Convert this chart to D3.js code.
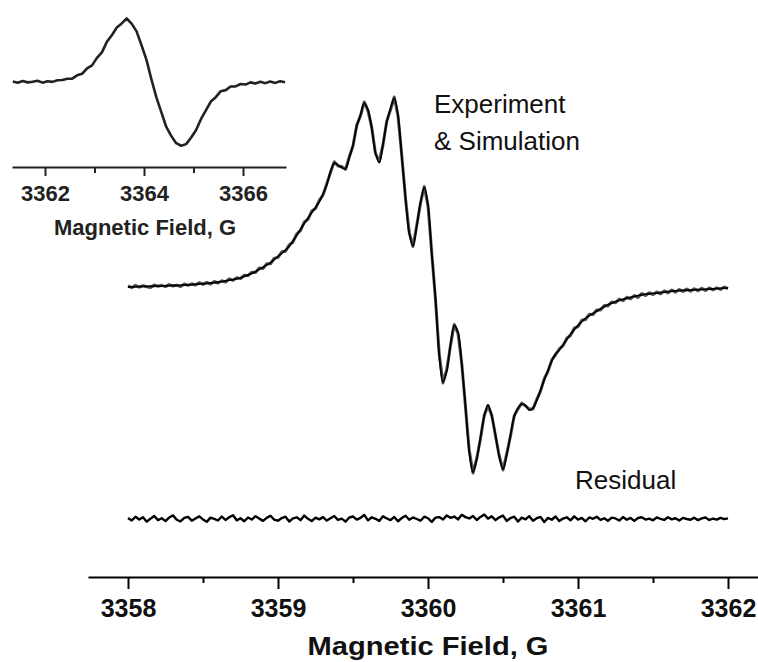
<!DOCTYPE html>
<html>
  <head>
    <meta charset="utf-8">
    <title>EPR spectrum: experiment, simulation, residual</title>
    <script src="https://d3js.org/d3.v7.min.js"></script>
    <style>
      body { margin: 0; background: #fff; }
      text { font-family: "Liberation Sans", Arial, sans-serif; }
    </style>
  </head>
  <body>
  <script type="text/javascript">
    // main spectrum: field grid 3358 .. 3362 G, step 0.025 G
    var fieldStart = 3358, fieldStep = 0.025;
    var mainTicks = [3358, 3359, 3360, 3361, 3362];
    var mainMinorTicks = [3358.5, 3359.5, 3360.5, 3361.5];

    // simulated derivative spectrum (arb. units)
    var simulation = [
      0, 0.1, 0.1, 0.2, 0.3, 0.3, 0.4, 0.4, 0.5, 0.5,
      0.6, 0.7, 0.8, 0.8, 0.9, 1.0, 1.1, 1.2, 1.4, 1.6,
      1.7, 1.9, 2.1, 2.3, 2.5, 2.8, 3.2, 3.6, 3.9, 4.4,
      4.8, 5.6, 6.4, 7.2, 8.1, 9.3, 10.4, 11.6, 12.8, 14.5,
      16.1, 17.7, 19.4, 21.4, 24.3, 27.2, 30.4, 33.4, 36.3, 39.2,
      41.9, 44.9, 48.9, 53.7, 60.7, 65.2, 64.2, 62.8, 62.3, 67.9,
      74.7, 84.6, 90.5, 96.8, 93.2, 83.5, 70.6, 65.5, 75.2, 86.7,
      93.8, 99.4, 90.5, 68.8, 47.1, 28.2, 21.7, 31.9, 44.5, 52.3,
      43.2, 17.5, -6.1, -35.9, -50, -44.1, -30.3, -20.3, -23.9, -40.7,
      -62.8, -86.6, -97.4, -90.7, -79.2, -68.0, -62.1, -68, -77.9, -89.4,
      -95.8, -88.3, -77.9, -68.2, -63.7, -61.7, -62.2, -64.8, -63.7, -59.7,
      -54.3, -48.9, -43.9, -39.0, -35.2, -33.2, -30.4, -27.6, -24.9, -22.4,
      -20.2, -18.2, -16.5, -15.1, -13.9, -12.7, -11.5, -10.4, -9.3, -8.5,
      -7.7, -7, -6.5, -6, -5.5, -5, -4.5, -4.1, -3.8, -3.6,
      -3.4, -3.2, -2.9, -2.7, -2.4, -2.2, -2, -1.9, -1.8, -1.7,
      -1.6, -1.5, -1.4, -1.3, -1.2, -1.1, -1, -0.9, -0.7, -0.6,
      -0.5
    ];

    // measured spectrum (same grid)
    var experiment = [
      0.6, -0.4, 0.9, -0.1, 0.7, 0.1, -0.3, 1.1, 0.4, 0.9,
      0.2, 1.3, 0.5, 1.0, 0.2, 1.6, 0.9, 1.7, 1.0, 2.3,
      1.4, 2.4, 1.5, 2.9, 2.1, 3.3, 2.6, 4.3, 3.5, 4.9,
      4.4, 6.2, 5.9, 7.8, 7.6, 10.0, 9.7, 12.3, 12.2, 15.2,
      15.5, 18.5, 18.8, 22.2, 23.6, 28.0, 29.7, 34.2, 35.6, 40.0,
      41.3, 45.6, 48.3, 54.4, 60.2, 65.9, 63.7, 63.4, 61.9, 68.5,
      74.2, 85.2, 90.1, 97.4, 92.7, 84.0, 70.2, 66.1, 74.8, 87.3,
      93.3, 100.0, 90.0, 69.4, 46.6, 28.8, 21.3, 32.5, 44.1, 52.9,
      42.7, 18.1, -6.6, -35.3, -50.5, -43.5, -30.8, -19.7, -24.4, -40.1,
      -63.3, -86.0, -97.9, -90.1, -79.7, -67.4, -62.6, -67.4, -78.4, -88.8,
      -96.3, -87.7, -78.4, -67.6, -64.2, -61.1, -62.7, -64.2, -64.2, -59.1,
      -54.9, -48.3, -44.4, -38.4, -35.8, -32.6, -31.0, -27.0, -25.5, -21.7,
      -20.9, -17.5, -17.1, -14.4, -14.5, -12.1, -12.1, -9.7, -10.0, -7.9,
      -8.3, -6.4, -7.2, -5.4, -6.2, -4.5, -5.5, -3.5, -4.5, -3.0,
      -4.0, -2.6, -3.6, -2.0, -3.1, -1.6, -2.7, -1.3, -2.3, -1.1,
      -2.2, -0.9, -2.0, -0.7, -1.8, -0.5, -1.5, -0.4, -1.3, 0.0,
      -0.8
    ];

    // residual = experiment - simulation
    var residual = [
      0.5, -0.8, 1.2, -0.3, 0.9, -1.4, 0.2, 1.6, -0.6, 0.4,
      -1.1, 0.8, 1.9, -0.4, -1.3, 0.6, 1.1, -0.9, 0.3, 1.4,
      -0.2, -1.5, 0.7, 0.1, -0.8, 1.3, -0.5, 0.9, 2.0, -0.7,
      0.4, -1.2, 0.8, -0.3, 1.5, 0.2, -1.0, 0.6, 1.7, -0.4,
      -0.9, 0.5, 1.2, -1.3, 0.3, 0.9, -0.6, 1.8, 0.1, -1.1,
      0.7, -0.2, 1.0, -0.8, 0.4, 1.6, -0.5, 0.2, -1.4, 0.8,
      1.3, -0.3, 0.6, 2.1, -0.7, 0.9, 0.1, -1.0, 1.4, 0.3,
      -0.6, 1.1, -1.2, 0.5, 1.7, -0.4, 0.8, 0.0, -0.9, 1.2,
      0.4, -1.5, 0.7, 1.0, -0.3, 1.9, 0.6, 1.3, -0.2, 2.2,
      1.0, 0.3, 1.6, -0.5, 1.1, 2.4, 0.2, 1.4, -0.6, 0.9,
      1.8, -1.0, 0.5, 1.2, -1.3, 0.7, -0.2, 1.5, -0.9, 0.4,
      1.1, -1.6, 0.6, -0.4, 1.3, -1.1, 0.2, 0.9, -0.7, 1.4,
      -0.3, 0.6, -1.2, 0.8, 0.1, 1.2, -0.5, 0.4, -0.9, 0.7,
      0.3, -0.8, 1.0, -0.4, 0.6, -1.0, 0.5, 0.9, -0.3, 0.2,
      -0.7, 0.8, 0.1, -0.5, 0.9, -0.2, 0.4, -0.8, 0.6, 0.0,
      -0.4, 0.7, -0.6, 0.3, 0.8, -0.5, 0.2, -0.3, 0.6, -0.1,
      0.3
    ];

    // inset: wide scan, 3361.35 .. 3366.85 G, step 0.1 G
    var insetStart = 3361.35, insetStep = 0.1;
    var insetTicks = [3362, 3364, 3366];
    var insetMinorTicks = [3363, 3365];
    var insetSignal = [
      0.8, -1.2, 1.5, -0.6, 0.4, 1.9, -1.0, 1.3, 0.2, 2.8,
      3.1, 5.2, 5.4, 10.6, 13.1, 21.5, 26.4, 38.3, 47.0, 63.8,
      74.2, 86.5, 93.0, 100.8, 92.7, 80.3, 58.4, 35.2, 4.1, -24.5,
      -47.7, -71.4, -85.5, -97.1, -101.2, -98.6, -88.5, -76.6, -59.1, -45.2,
      -31.0, -24.1, -14.6, -12.9, -7.2, -6.9, -3.2, -4.1, -0.6, -2.5,
      0.3, -1.8, 0.9, -1.4, 1.1, -0.5
    ];

    var width = 758, height = 662;

    var svg = d3.select("body").append("svg")
      .attr("width", width)
      .attr("height", height);

    svg.append("rect").attr("width", width).attr("height", height).attr("fill", "#fff");

    // ---- main panel ----
    var x = d3.scaleLinear().domain([3358, 3362]).range([128, 728]);
    var y = d3.scaleLinear().domain([-100, 100]).range([477, 97]);
    var yRes = d3.scaleLinear().domain([-100, 100]).range([709, 329]);

    function field(i) { return fieldStart + i * fieldStep; }

    var line = d3.line()
      .x(function(d, i){ return x(field(i)); })
      .y(function(d){ return y(d); });

    var resLine = d3.line()
      .x(function(d, i){ return x(field(i)); })
      .y(function(d){ return yRes(d); });

    svg.append("path")
      .datum(experiment)
      .attr("d", line)
      .attr("fill", "none")
      .attr("stroke", "#555")
      .attr("stroke-width", 3)
      .attr("stroke-linejoin", "round");

    svg.append("path")
      .datum(simulation)
      .attr("d", line.curve(d3.curveCatmullRom))
      .attr("fill", "none")
      .attr("stroke", "#000")
      .attr("stroke-width", 1.8);

    svg.append("path")
      .datum(residual)
      .attr("d", resLine)
      .attr("fill", "none")
      .attr("stroke", "#000")
      .attr("stroke-width", 2.4)
      .attr("stroke-linejoin", "round");

    // main axis (line runs past the data on both sides)
    var xAxisScale = x.copy().domain([x.invert(88), x.invert(758)]).range([88, 758]);
    var axisY = 577;
    var gx = svg.append("g").attr("transform", "translate(0," + axisY + ")");
    gx.call(d3.axisBottom(xAxisScale).tickValues(mainTicks).tickSize(12).tickPadding(10)
        .tickFormat(d3.format("d")).tickSizeOuter(0));
    gx.append("g").call(d3.axisBottom(xAxisScale).tickValues(mainMinorTicks).tickSize(6)
        .tickFormat("").tickSizeOuter(0))
      .select(".domain").remove();
    gx.selectAll("path, line").attr("stroke", "#000").attr("stroke-width", 2);
    gx.selectAll("text")
      .style("font-family", "'Liberation Sans', Arial, sans-serif")
      .style("font-size", "25px")
      .style("font-weight", "bold")
      .attr("fill", "#111");

    // axis title, slightly stretched sideways as in the original figure
    svg.append("text")
      .attr("transform", "translate(428,655) scale(1.12,1)")
      .attr("text-anchor", "middle")
      .style("font-size", "26px").style("font-weight", "bold")
      .attr("fill", "#111")
      .text("Magnetic Field, G");

    svg.append("text").attr("x", 434).attr("y", 113)
      .style("font-size", "26px").attr("fill", "#111").text("Experiment");
    svg.append("text").attr("x", 434).attr("y", 150)
      .style("font-size", "26px").attr("fill", "#111").text("& Simulation");
    svg.append("text").attr("x", 575).attr("y", 489)
      .style("font-size", "26px").attr("fill", "#111").text("Residual");

    // ---- inset ----
    var xi = d3.scaleLinear().domain([3362, 3366]).range([45, 243]);
    var yi = d3.scaleLinear().domain([-100, 100]).range([145, 19]);

    var insetLine = d3.line()
      .x(function(d, i){ return xi(insetStart + i * insetStep); })
      .y(function(d){ return yi(d); });

    svg.append("path")
      .datum(insetSignal)
      .attr("d", insetLine)
      .attr("fill", "none")
      .attr("stroke", "#222")
      .attr("stroke-width", 2.6)
      .attr("stroke-linejoin", "round");

    var xiAxisScale = xi.copy().domain([xi.invert(12), xi.invert(286)]).range([12, 286]);
    var gi = svg.append("g").attr("transform", "translate(0,167)");
    gi.call(d3.axisBottom(xiAxisScale).tickValues(insetTicks).tickSize(9).tickPadding(9)
        .tickFormat(d3.format("d")).tickSizeOuter(0));
    gi.append("g").call(d3.axisBottom(xiAxisScale).tickValues(insetMinorTicks).tickSize(6)
        .tickFormat("").tickSizeOuter(0))
      .select(".domain").remove();
    gi.selectAll("path, line").attr("stroke", "#222").attr("stroke-width", 2);
    gi.selectAll("text")
      .style("font-family", "'Liberation Sans', Arial, sans-serif")
      .style("font-size", "22px")
      .style("font-weight", "bold")
      .attr("fill", "#222");

    svg.append("text")
      .attr("x", 145).attr("y", 235)
      .attr("text-anchor", "middle")
      .style("font-size", "22px").style("font-weight", "bold")
      .attr("fill", "#222")
      .text("Magnetic Field, G");
  </script>
  </body>
</html>
